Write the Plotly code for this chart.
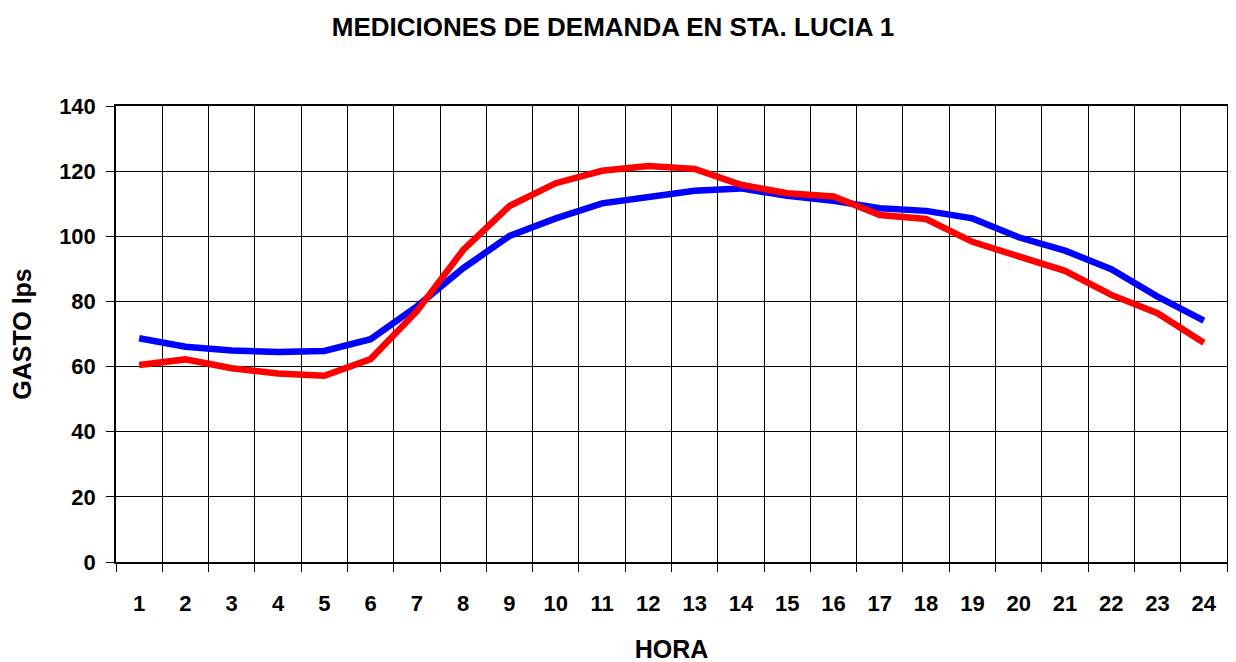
import plotly.graph_objects as go

# horas del dia
horas = [str(h) for h in range(1, 25)]

gasto_azul = [68.7, 66.1, 64.9, 64.5, 64.8, 68.4, 78.5, 90.2, 100.1, 105.5, 110.1, 112.2,
              114.0, 114.7, 112.4, 110.9, 108.6, 107.8, 105.5, 99.7, 95.6, 89.9, 81.5, 74.1]
gasto_rojo = [60.5, 62.2, 59.5, 57.9, 57.2, 62.3, 77.0, 95.8, 109.3, 116.3, 120.1, 121.6,
              120.7, 115.8, 113.2, 112.2, 106.5, 105.3, 98.3, 93.7, 89.4, 82.0, 76.4, 67.3]

y_ticks = [0, 20, 40, 60, 80, 100, 120, 140]

FONT = "Liberation Sans, Arial, sans-serif"

fig = go.Figure()
fig.add_trace(go.Scatter(x=horas, y=gasto_azul, mode="lines",
                         line=dict(color="#0000FF", width=6.5), showlegend=False))
fig.add_trace(go.Scatter(x=horas, y=gasto_rojo, mode="lines",
                         line=dict(color="#FF0000", width=6.5), showlegend=False))

# the page body adds an 8px margin, so the figure is shifted up/left by 8px here
fig.update_layout(
    width=1236, height=662,
    margin=dict(l=108, r=17, t=98, b=108),
    paper_bgcolor="white", plot_bgcolor="white",
    font=dict(family=FONT, color="black"),
    title=dict(text="<b>MEDICIONES DE DEMANDA EN STA. LUCIA 1</b>",
               x=0.4895, xref="container", xanchor="center",
               y=0.971, yref="container", yanchor="middle",
               font=dict(size=26)),
)

fig.update_xaxes(
    type="category", tickson="boundaries", range=[-0.5, 23.5],
    showgrid=True, gridcolor="black", gridwidth=1,
    showline=True, linecolor="black", linewidth=1.5, mirror=True,
    ticks="outside", ticklen=8, tickcolor="black",
    tickfont=dict(size=22, family=FONT, weight="bold"), ticklabelstandoff=21,
    title=dict(text="<b>HORA</b>", font=dict(size=25), standoff=25),
    automargin=False,
)
fig.update_yaxes(
    range=[0, 140], tickvals=y_ticks,
    showgrid=True, gridcolor="black", gridwidth=1,
    showline=True, linecolor="black", linewidth=1.5, mirror=True,
    ticks="outside", ticklen=8, tickcolor="black",
    tickfont=dict(size=22, family=FONT, weight="bold"), ticklabelstandoff=6,
    title=dict(text="<b>GASTO lps</b>", font=dict(size=25), standoff=21),
    zeroline=False, automargin=False,
)
fig.update_traces(hoverinfo="skip")

fig.write_html("out.html")
